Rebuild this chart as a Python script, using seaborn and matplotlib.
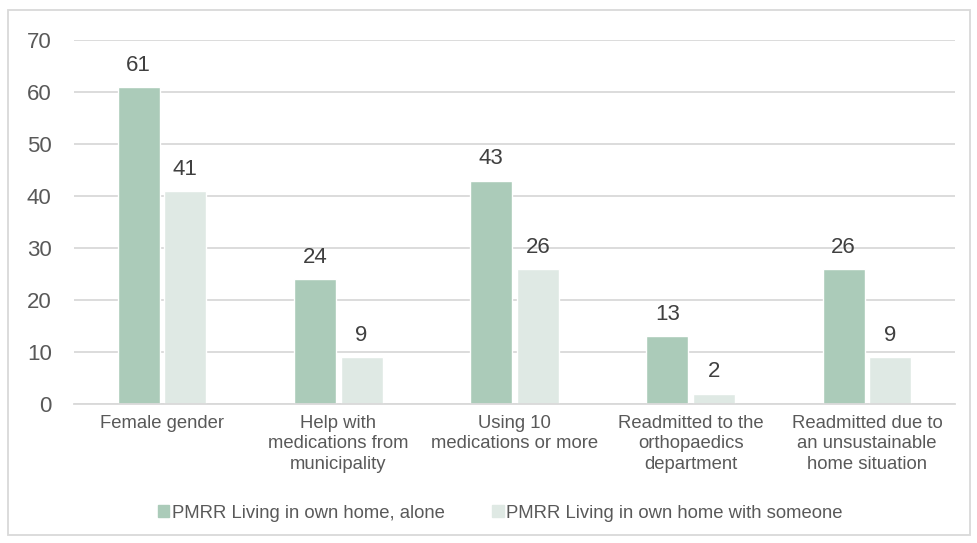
import numpy as np
import matplotlib.pyplot as plt
import seaborn as sns
import pandas as pd
from matplotlib.patches import Rectangle

categories = ['Female gender', 'Help with\nmedications from\nmunicipality',
              'Using 10\nmedications or more', 'Readmitted to the\northopaedics\ndepartment',
              'Readmitted due to\nan unsustainable\nhome situation']
alone = [61, 24, 43, 13, 26]
someone = [41, 9, 26, 2, 9]
series = ['PMRR Living in own home, alone', 'PMRR Living in own home with someone']

df = pd.DataFrame({
    'cat': categories * 2,
    'value': alone + someone,
    'group': [series[0]] * 5 + [series[1]] * 5,
})

sns.set_style('white')
plt.rcParams['font.family'] = ['Liberation Sans', 'DejaVu Sans']
txt = '#595959'

fig = plt.figure(figsize=(9.77, 5.43), dpi=100)
ax = fig.add_axes([0.0757, 0.256, 0.9018, 0.670])
sns.barplot(data=df, x='cat', y='value', hue='group', ax=ax,
            palette=['#ABCBB9', '#DFE9E4'], width=0.53, gap=0.1,
            saturation=1, legend=False)

for c in ax.containers:
    ax.bar_label(c, fmt='%d', padding=8, fontsize=16, color='#404040')

ax.set_ylim(0, 70)
ax.set_yticks(range(0, 71, 10))
ax.yaxis.grid(True, color='#D9D9D9', linewidth=1.3)
ax.set_axisbelow(True)
for s in ['top', 'right', 'left']:
    ax.spines[s].set_visible(False)
ax.spines['bottom'].set_color('#D9D9D9')
ax.spines['bottom'].set_linewidth(1.3)
ax.tick_params(axis='y', labelsize=16, labelcolor=txt, length=0, pad=16)
ax.tick_params(axis='x', labelsize=13.3, labelcolor=txt, length=0, pad=8)
for lab in ax.get_xticklabels():
    lab.set_linespacing(1.25)
ax.set_xlabel('')
ax.set_ylabel('')

handles = [Rectangle((0, 0), 1, 1, color='#ABCBB9'), Rectangle((0, 0), 1, 1, color='#DFE9E4')]
fig.legend(handles, series, loc='center', bbox_to_anchor=(0.512, 0.055), ncol=2,
           frameon=False, fontsize=13.3, labelcolor=txt, handlelength=0.6, handleheight=0.6,
           handletextpad=0.15, columnspacing=2.6)

fig.patches.append(Rectangle((8 / 977, 1 - 535 / 543), 962 / 977, 525 / 543,
                             transform=fig.transFigure, fill=False,
                             edgecolor='#D9D9D9', linewidth=1.3))

fig.savefig('out.png', dpi=100)
